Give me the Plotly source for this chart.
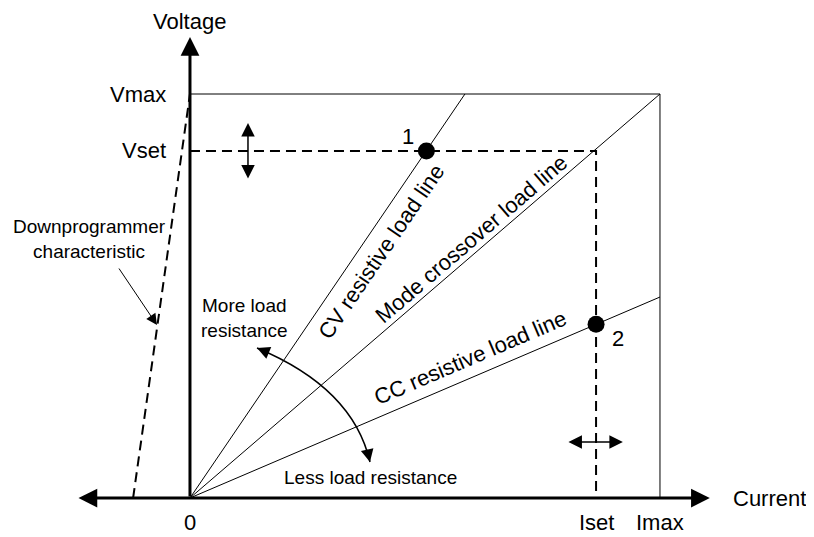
import math
import plotly.graph_objects as go

# values normalised to Imax = 1 and Vmax = 1
current_ticks = ["0", "Iset", "Imax"]
current_values = [0.0, 0.864, 1.0]
voltage_ticks = ["Vset", "Vmax"]
voltage_values = [0.859, 1.0]
i_set, i_max = current_values[1], current_values[2]
v_set, v_max = voltage_values[0], voltage_values[1]

# resistive load lines from the origin to the Vmax / Imax boundary
load_names = ["CV resistive load line", "Mode crossover load line", "CC resistive load line"]
load_end_i = [0.585, 1.0, 1.0]
load_end_v = [1.0, 1.0, 0.4975]
load_label_t = [0.637, 0.618, 0.613]
load_label_gap = [20, -13, -19]

# operating points
point_names = ["1", "2"]
point_i = [0.503, 0.864]
point_v = [0.859, 0.430]
point_label_dx = [-18, 22]
point_label_dy = [14, -14]

# downprogrammer characteristic
down_i = [-0.121, 0.0]
down_v = [0.0, 1.0]

# page has an 8px body margin, so the figure is 16px smaller than the window
W, H = 806, 529
x_range = [-0.3872, 1.3277]
y_range = [-0.0965, 1.2129]
x_tips = [-0.2404, 1.106]
y_tip = 1.141
px_i = W / (x_range[1] - x_range[0])
px_v = H / (y_range[1] - y_range[0])

FONT = "Arial, 'Liberation Sans', sans-serif"
BIG = 22
SMALL = 19

fig = go.Figure()

# Vmax / Imax boundary
fig.add_trace(go.Scatter(x=[0, i_max, i_max], y=[v_max, v_max, 0], mode="lines",
                         line=dict(color="black", width=1), hoverinfo="skip"))

# load lines
for name, ei, ev in zip(load_names, load_end_i, load_end_v):
    fig.add_trace(go.Scatter(x=[0, ei], y=[0, ev], mode="lines", name=name,
                             line=dict(color="black", width=1), hoverinfo="skip"))

# Vset / Iset settings
fig.add_trace(go.Scatter(x=[0, i_set, i_set], y=[v_set, v_set, 0], mode="lines",
                         line=dict(color="black", width=2, dash="10px,6px"), hoverinfo="skip"))

# downprogrammer
fig.add_trace(go.Scatter(x=down_i, y=down_v, mode="lines",
                         line=dict(color="black", width=2, dash="10px,6px"), hoverinfo="skip"))

# operating points
fig.add_trace(go.Scatter(x=point_i, y=point_v, mode="markers",
                         marker=dict(color="black", size=17), hoverinfo="skip"))

ann = []


def label(text, x, y, size=BIG, **kw):
    ann.append(dict(text=text, x=x, y=y, xref="x", yref="y", showarrow=False,
                    font=dict(family=FONT, size=size, color="black"), **kw))


def arrow(x, y, ax, ay, width, size, both=False, data_tail=True):
    d = dict(text="", x=x, y=y, ax=ax, ay=ay, xref="x", yref="y", showarrow=True,
             arrowhead=2, arrowsize=size, arrowwidth=width, arrowcolor="black",
             standoff=0, startstandoff=0)
    if data_tail:
        d.update(axref="x", ayref="y")
    if both:
        d.update(arrowside="end+start", startarrowhead=2, startarrowsize=size)
    ann.append(d)


# axes
arrow(x_tips[1], 0, x_tips[0], 0, 3, 1.25, both=True)
arrow(0, y_tip, 0, 0, 3, 1.25)
label("Voltage", 0, y_tip, yshift=16)
label("Current", x_tips[1], 0, xanchor="left", xshift=21)

for t, v in zip(voltage_ticks, voltage_values):
    label(t, 0, v, xanchor="right", xshift=-22)
for t, c in zip(current_ticks, current_values):
    label(t, c, 0, yshift=-24)

# load line labels, rotated along each line
for name, ei, ev, t, gap in zip(load_names, load_end_i, load_end_v, load_label_t, load_label_gap):
    a = math.atan2(ev * px_v, ei * px_i)
    label(name, ei * t, ev * t, textangle=-math.degrees(a),
          xshift=gap * math.sin(a), yshift=-gap * math.cos(a))

for name, x, y, dx, dy in zip(point_names, point_i, point_v, point_label_dx, point_label_dy):
    label(name, x, y, xshift=dx, yshift=dy)

# adjustment arrows on the settings
arrow(0.1234, 0.928, 0.1234, 0.787, 1.5, 1.8, both=True)
arrow(0.921, 0.1386, 0.802, 0.1386, 1.5, 1.8, both=True)

# downprogrammer callout
label("Downprogrammer<br>characteristic", -0.2128, 0.642, size=SMALL)
arrow(-0.0702, 0.4282, -0.1532, 0.5718, 1, 2.2)

# load resistance arc
arc_i = [0.1426, 0.3468, 0.383]
arc_v = [0.3713, 0.2723, 0.0891]
fig.add_shape(type="path", xref="x", yref="y",
              path=f"M {arc_i[0]},{arc_v[0]} Q {arc_i[1]},{arc_v[1]} {arc_i[2]},{arc_v[2]}",
              line=dict(color="black", width=1.5))
arrow(arc_i[0], arc_v[0], 13, 5.4, 1.5, 1.7, data_tail=False)
arrow(arc_i[2], arc_v[2], -3.1, -13.6, 1.5, 1.7, data_tail=False)
label("More load<br>resistance", 0.117, 0.445, size=SMALL)
label("Less load resistance", 0.385, 0.052, size=SMALL)

fig.update_layout(
    width=W, height=H, margin=dict(l=0, r=0, t=0, b=0),
    paper_bgcolor="white", plot_bgcolor="white", showlegend=False,
    xaxis=dict(range=x_range, visible=False, fixedrange=True),
    yaxis=dict(range=y_range, visible=False, fixedrange=True),
    annotations=ann,
    font=dict(family=FONT),
)

fig.write_html("out.html", config={"displayModeBar": False})
